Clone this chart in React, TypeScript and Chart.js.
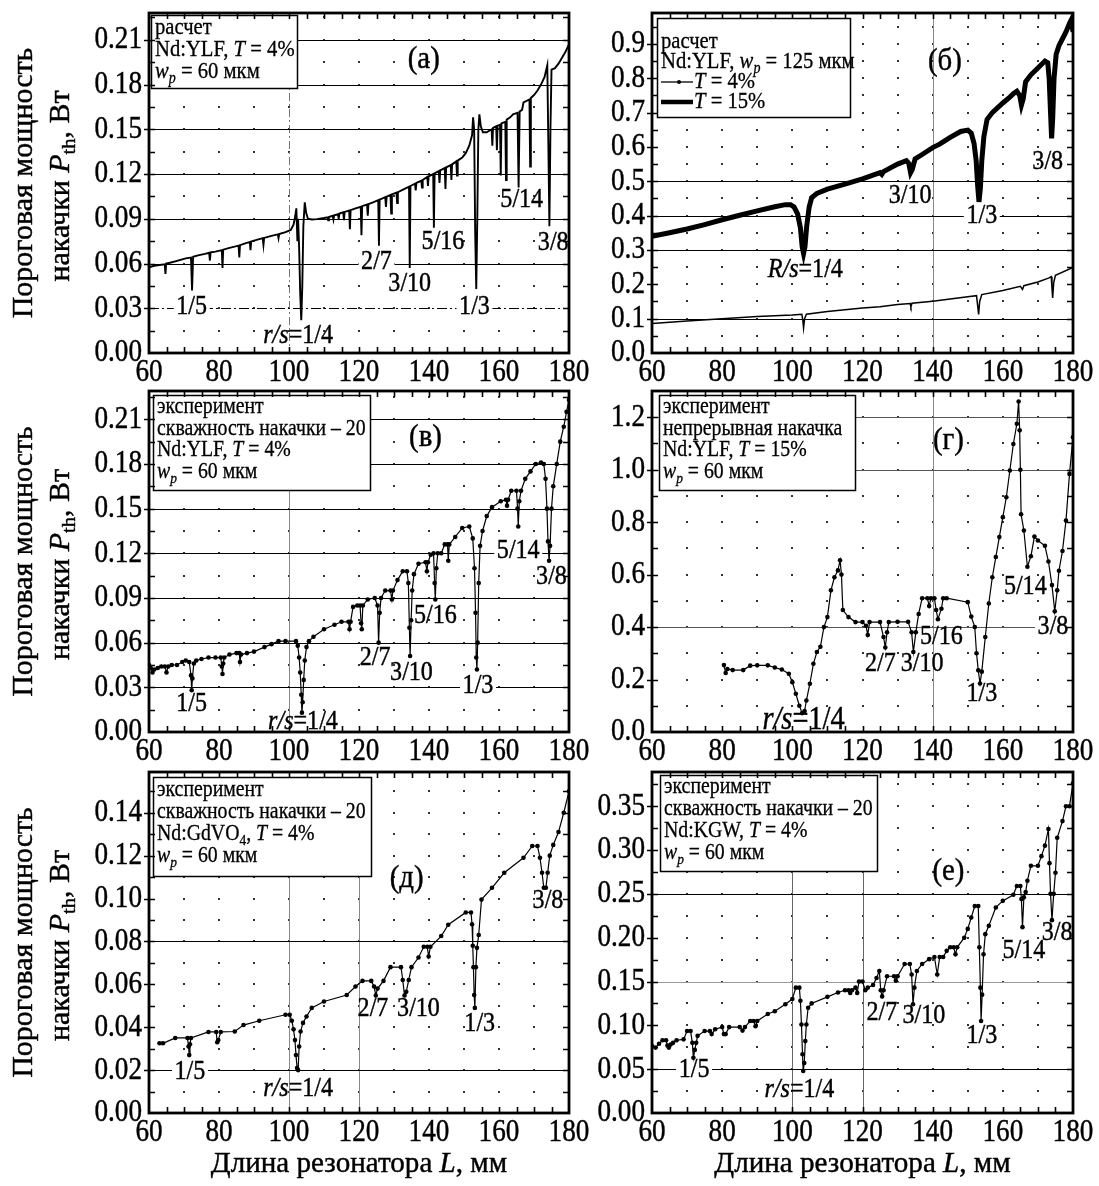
import React, { useEffect, useRef } from "react";
import { Chart, registerables } from "chart.js";
Chart.register(...registerables);

const W = 1099;
const H = 1186;
const FONT = '"Liberation Serif","Times New Roman",serif';

// ---------------- DATA ----------------
// (а) расчет, Nd:YLF, T = 4%
const calcYlfL = [60.0,61.5,63,64.5,64.7,64.9,66,67.5,69,70.5,72.0,72.3,72.6,74,76,77.2,77.4,77.6,79,80.8,81.0,81.2,83,85.6,85.8,86.0,87.5,88.8,89.0,89.2,91,92.5,92.7,92.9,95,96.8,97.0,97.2,99,100.5,101.3,101.8,102.1,102.4,102.6,102.9,103.2,103.5,103.8,104.1,104.5,104.9,105.4,106.5,108,110,111,111.2,111.4,112.5,112.7,112.9,114,114.2,114.4,115.5,115.7,115.9,117.2,117.4,117.6,119,120.5,120.7,120.9,122.3,122.5,122.7,124,125.5,125.7,125.9,127.5,127.7,127.9,129.0,129.2,129.4,130.7,130.9,131.1,133,134.3,134.5,134.7,136,136.2,136.4,137.8,138.0,138.2,139.5,139.7,139.9,141.2,141.4,141.6,142.8,143.0,143.2,144.5,144.7,144.9,146.2,146.4,146.6,147.8,148.0,148.2,149.5,150.5,151.5,152.3,152.6,152.9,153.2,153.5,153.8,154.1,154.4,154.8,155.4,156.5,157.2,157.9,158.1,158.3,159.2,159.4,159.6,160.3,160.5,160.7,161.8,162.0,162.2,163.2,164.0,165.3,165.6,165.9,166.6,167.0,168.7,168.9,169.1,170,171,172,173,173.8,174.1,174.4,174.7,175.0,176,177,178,179,180];
const calcYlfP = [0.0575,0.0585,0.059,0.0595,0.053,0.060,0.0605,0.0615,0.0625,0.0635,0.064,0.042,0.0645,0.0655,0.0665,0.0672,0.062,0.0675,0.068,0.069,0.057,0.0693,0.0705,0.072,0.064,0.0723,0.0735,0.0745,0.069,0.0748,0.076,0.077,0.0725,0.0772,0.0785,0.0795,0.077,0.0798,0.081,0.0825,0.086,0.092,0.097,0.075,0.090,0.070,0.040,0.022,0.045,0.085,0.101,0.094,0.090,0.0895,0.0898,0.0905,0.091,0.089,0.0912,0.092,0.0895,0.0923,0.093,0.090,0.0935,0.0943,0.089,0.0946,0.0955,0.083,0.0958,0.097,0.098,0.079,0.0985,0.0995,0.092,0.0998,0.101,0.1025,0.072,0.1028,0.1045,0.098,0.1048,0.106,0.0935,0.1063,0.1075,0.1005,0.1078,0.110,0.1115,0.057,0.112,0.1135,0.109,0.114,0.1155,0.111,0.116,0.118,0.112,0.1185,0.120,0.084,0.1205,0.122,0.114,0.1225,0.124,0.110,0.1245,0.126,0.116,0.1265,0.1285,0.119,0.129,0.131,0.134,0.139,0.146,0.158,0.150,0.080,0.043,0.090,0.150,0.160,0.152,0.148,0.148,0.149,0.150,0.139,0.151,0.152,0.136,0.1525,0.153,0.119,0.154,0.155,0.116,0.1565,0.158,0.160,0.161,0.111,0.162,0.163,0.168,0.170,0.125,0.171,0.173,0.176,0.180,0.185,0.193,0.140,0.085,0.150,0.190,0.191,0.194,0.198,0.202,0.207];

// (б) расчет, Nd:YLF, wp = 125 мкм, T = 15%
const calc15L = [60,65,70,75,80,85,90,95,98,99.5,100.5,101.5,102.3,102.8,103.2,103.6,104.1,104.8,105.5,107,110,115,120,125,125.5,126,130,132.5,133.2,133.7,134.2,135,137,140,142,145,148,150,151,151.8,152.4,152.8,153.2,153.6,154.0,154.6,155.5,157,160,162,163,164,164.8,165.3,165.8,166.5,168,170,172,172.8,173.2,173.6,173.9,174.2,174.6,175.2,176,177,178,179,179.5,180];
const calc15P = [0.340,0.350,0.361,0.374,0.388,0.401,0.414,0.426,0.432,0.432,0.425,0.405,0.365,0.310,0.290,0.310,0.370,0.425,0.452,0.465,0.477,0.492,0.507,0.525,0.520,0.528,0.550,0.560,0.552,0.525,0.535,0.565,0.578,0.598,0.608,0.628,0.645,0.649,0.640,0.610,0.560,0.490,0.440,0.480,0.560,0.630,0.680,0.700,0.728,0.745,0.755,0.762,0.750,0.722,0.740,0.790,0.810,0.830,0.850,0.845,0.800,0.700,0.625,0.680,0.800,0.870,0.895,0.915,0.935,0.960,0.970,0.935];
// (б) T = 4%
const calc4L = [60,70,80,90,100,102.7,103.0,103.2,103.5,104,110,120,125,130,133.6,133.8,134.1,140,145,150,152.5,152.8,153.1,153.4,154,160,165,165.6,166,170,173,173.8,174.0,174.2,174.5,175,180];
const calc4P = [0.086,0.093,0.100,0.106,0.111,0.113,0.095,0.073,0.100,0.113,0.121,0.131,0.135,0.141,0.144,0.135,0.145,0.151,0.157,0.164,0.167,0.140,0.112,0.150,0.170,0.182,0.194,0.185,0.196,0.207,0.218,0.222,0.190,0.160,0.205,0.226,0.249];

// (в) эксперимент, Nd:YLF, T = 4%
const expYlf4L = [60,60.5,61,61.5,62.5,63.5,64.5,65,65.5,66.5,68,69.5,70.5,71.5,72,72.2,72.4,72.8,73.5,75,77,79,80.5,80.8,81,81.2,81.5,83,85,85.8,86,86.3,88,90,93,95,97,99,102,102.5,102.9,103.2,103.5,103.7,103.9,104.2,104.5,105,105.7,107,110,113,115,117,117.3,117.6,118.3,119.5,120.3,120.6,120.8,121.1,122.5,124.5,125.3,125.6,125.9,126.3,127.5,129,129.4,129.7,131,132.5,133.7,134.1,134.4,134.6,134.9,135.2,135.7,137,139,139.4,139.7,140.5,141.3,141.6,141.8,142.1,142.5,143.5,144.5,145.3,145.5,145.8,147.5,149.5,151.5,152.5,153,153.3,153.5,153.7,153.9,154.2,154.6,155.3,156.5,158,160.5,162,162.3,162.6,163.5,165,165.3,165.5,165.8,166.3,167.5,169,170.5,172,172.8,173.3,173.7,174,174.3,174.6,175,175.5,176.5,177.5,178.5,179.3,180];
const expYlf4P = [0.045,0.043,0.040,0.042,0.043,0.044,0.044,0.040,0.044,0.045,0.045,0.047,0.048,0.047,0.038,0.028,0.036,0.046,0.048,0.049,0.050,0.050,0.050,0.044,0.039,0.046,0.050,0.052,0.053,0.053,0.047,0.052,0.053,0.054,0.057,0.059,0.061,0.061,0.061,0.058,0.050,0.040,0.025,0.013,0.020,0.035,0.048,0.057,0.061,0.064,0.069,0.072,0.074,0.074,0.069,0.074,0.084,0.085,0.085,0.073,0.069,0.085,0.089,0.090,0.085,0.060,0.080,0.090,0.095,0.095,0.089,0.095,0.102,0.108,0.108,0.100,0.070,0.051,0.075,0.095,0.106,0.113,0.114,0.108,0.114,0.119,0.120,0.100,0.089,0.110,0.120,0.120,0.126,0.126,0.115,0.126,0.131,0.137,0.138,0.130,0.110,0.080,0.050,0.042,0.060,0.100,0.125,0.135,0.145,0.151,0.155,0.156,0.152,0.156,0.162,0.162,0.150,0.138,0.155,0.162,0.170,0.175,0.180,0.181,0.180,0.170,0.150,0.128,0.115,0.125,0.150,0.165,0.180,0.195,0.205,0.215,0.223];

// (г) эксперимент, непрерывная накачка, Nd:YLF, T = 15%
const expYlf15L = [80.5,81,81.5,83,86,88,90,93,95,97,99,100,101,102,102.8,103.5,104,105,106,107,108,109,110,111,112,113,113.6,114,114.4,116,118,120,121,121.5,122,125,126,126.5,127,127.5,130,133,134,134.5,135.2,136,137,138.5,139,139.5,140.5,141,141.5,142.5,143,144,150,151,152,152.5,153,153.5,154,155,156,157,158,159,160,161,162,163,164,164.5,164.8,165,165.2,166,167,168,169,170,172,173,174,174.8,175.5,176,177,178,179,180];
const expYlf15P = [0.255,0.225,0.240,0.236,0.236,0.253,0.254,0.254,0.246,0.238,0.222,0.190,0.146,0.100,0.072,0.080,0.120,0.184,0.260,0.305,0.325,0.400,0.438,0.540,0.590,0.616,0.655,0.600,0.465,0.438,0.419,0.419,0.405,0.370,0.419,0.419,0.362,0.322,0.380,0.419,0.420,0.420,0.380,0.305,0.380,0.450,0.510,0.510,0.480,0.510,0.510,0.465,0.430,0.470,0.510,0.510,0.495,0.440,0.400,0.300,0.235,0.185,0.230,0.362,0.490,0.590,0.667,0.743,0.819,0.895,0.997,1.098,1.175,1.260,1.150,1.000,0.830,0.768,0.630,0.670,0.745,0.730,0.710,0.650,0.560,0.460,0.540,0.615,0.690,0.806,0.984,1.124];

// (д) эксперимент, Nd:GdVO4, T = 4%
const expGdvoL = [63,64,67.5,71,71.3,71.5,71.7,72,77,79.2,79.5,79.8,80.5,84.5,87,91.5,99,100.2,100.8,101.3,101.7,102,102.3,102.6,102.9,103.3,104,105,106.5,110,116.5,119,121,123.5,124.3,124.8,125.3,127,129,132,132.5,133,133.5,134.2,135,137,138.5,139.5,139.9,140.4,143.5,145.5,150.5,152,152.3,152.5,152.7,152.9,153.1,153.4,153.7,154.2,155,158,161.5,167,169.5,171,171.7,172.3,172.8,173.4,173.9,174.5,175.5,177,178.5,180];
const expGdvoP = [0.0325,0.0325,0.035,0.035,0.031,0.027,0.032,0.035,0.0378,0.0378,0.033,0.034,0.0378,0.038,0.041,0.043,0.0458,0.0458,0.043,0.039,0.034,0.027,0.021,0.020,0.031,0.038,0.042,0.045,0.049,0.052,0.055,0.059,0.0616,0.0616,0.059,0.0548,0.058,0.0616,0.068,0.068,0.062,0.0548,0.0565,0.062,0.068,0.0725,0.0775,0.0775,0.073,0.0775,0.0825,0.0878,0.0935,0.0935,0.088,0.078,0.068,0.055,0.049,0.068,0.077,0.083,0.0995,0.105,0.112,0.119,0.1245,0.1245,0.119,0.112,0.105,0.105,0.112,0.120,0.125,0.131,0.140,0.150];

// (е) эксперимент, Nd:KGW, T = 4%
const expKgwL = [60,61,62,63,64,64.4,64.8,65.3,66,67,69,70,71,71.5,71.8,72.2,72.6,73,75,76.5,77,78,80,80.5,81,82,85,85.8,86.5,88,89,89.5,90,93,95,98,100,101,102,102.3,102.6,102.9,103.1,103.4,103.7,104,104.5,105.5,110,113,115,116,116.5,117,118,118.5,119,120,120.8,121.5,123,124,124.8,125.2,125.6,126,127,129,129.5,130,132,133.5,134,134.4,134.8,135.5,137,139,140.5,141.3,142,143,144,145,146,146.5,147,149,150,151,152,153,153.3,153.6,153.8,154.1,154.5,155,156,158,160,163,164,165,165.3,165.6,166,166.5,167,168,170,171,172,173,173.3,173.6,174,174.5,175,175.5,177,178,179,180];
const expKgwP = [0.0765,0.0746,0.079,0.083,0.083,0.077,0.0746,0.078,0.080,0.083,0.084,0.0935,0.0935,0.080,0.063,0.072,0.080,0.088,0.0935,0.0935,0.090,0.0955,0.098,0.090,0.090,0.098,0.098,0.094,0.098,0.105,0.105,0.099,0.105,0.113,0.116,0.124,0.130,0.143,0.143,0.128,0.101,0.067,0.048,0.057,0.082,0.101,0.120,0.125,0.1325,0.1375,0.140,0.140,0.137,0.140,0.143,0.137,0.150,0.150,0.140,0.143,0.146,0.154,0.162,0.140,0.133,0.140,0.156,0.156,0.151,0.156,0.170,0.170,0.158,0.124,0.143,0.162,0.170,0.1755,0.178,0.158,0.178,0.178,0.185,0.189,0.189,0.181,0.189,0.200,0.210,0.223,0.236,0.236,0.189,0.143,0.105,0.135,0.181,0.204,0.2135,0.2345,0.242,0.249,0.259,0.259,0.244,0.212,0.246,0.252,0.265,0.282,0.282,0.293,0.305,0.324,0.285,0.250,0.220,0.250,0.274,0.314,0.333,0.350,0.350,0.376];

const xTickLabels = [60, 80, 100, 120, 140, 160, 180];

// ---------------- TEXT HELPERS ----------------
type Seg = { t: string; i?: boolean; sub?: boolean };
const t = (s: string): Seg => ({ t: s });
const it = (s: string): Seg => ({ t: s, i: true });
const sb = (s: string, i = false): Seg => ({ t: s, sub: true, i });

const SQ_TICK = 0.85;
const SQ_NOTE = 0.86;
const SQ_TAG = 0.9;
const SQ_LEG = 0.86;
const SQ_XT = 0.97;
const SQ_YT = 0.97;

function fontFor(s: Seg, size: number) {
  const sz = s.sub ? size * 0.68 : size;
  return `${s.i ? "italic " : ""}${sz}px ${FONT}`;
}

function drawRich(ctx: CanvasRenderingContext2D, segs: Seg[], x: number, y: number, size: number, align: string, sq: number, rot = false, bg = false) {
  ctx.save();
  ctx.translate(x, y);
  ctx.scale(sq, 1);
  if (rot) ctx.rotate(-Math.PI / 2);
  const widths: number[] = [];
  let total = 0;
  for (const s of segs) {
    ctx.font = fontFor(s, size);
    const w = ctx.measureText(s.t).width;
    widths.push(w);
    total += w;
  }
  let sx = align === "center" ? -total / 2 : align === "right" ? -total : 0;
  if (bg) {
    ctx.fillStyle = "#fff";
    ctx.fillRect(sx - 3, -size * 0.4, total + 6, size * 0.8);
  }
  ctx.fillStyle = "#000";
  ctx.strokeStyle = "#000";
  ctx.lineWidth = size > 25 ? 0.45 : 0.3;
  ctx.textBaseline = "middle";
  ctx.textAlign = "left";
  segs.forEach((s, k) => {
    ctx.font = fontFor(s, size);
    const yy = s.sub ? size * 0.3 : 0;
    ctx.fillText(s.t, sx, yy);
    ctx.strokeText(s.t, sx, yy);
    sx += widths[k];
  });
  ctx.restore();
}

// ---------------- PANELS ----------------
const L1 = 149, R1 = 569, L2 = 652, R2 = 1073;
const ROWS = [[13, 353], [391, 732], [772, 1113]];

type Note = { s: Seg[]; x: number; y: number; size?: number; bg?: boolean; tag?: boolean };
type LegLine = { s: Seg[]; sample?: number };

const frac = (s: string) => [t(s)];
const rs = [it("r/s"), t("=1/4")];

const panels: any[] = [
  {
    id: "a", box: [L1, ROWS[0][0], R1, ROWS[0][1]], ymax: 0.228, ystep: 0.03, dec: 2, ytitle: true, xtitle: false,
    hl: [{ v: 0.03, dash: [10, 3, 2, 3] }, { v: 0.06 }, { v: 0.09 }, { v: 0.12 }, { v: 0.15 }, { v: 0.18 }, { v: 0.21 }],
    vl: [{ v: 100, c: "#777", dash: [8, 3, 2, 3] }],
    series: [{ x: calcYlfL, y: calcYlfP, w: 1.9, pts: 0 }],
    notes: [
      { s: frac("(а)"), x: 138.5, y: 0.197, size: 32, tag: true },
      { s: frac("1/5"), x: 72.2, y: 0.031, bg: true },
      { s: rs, x: 102.6, y: 0.0117 },
      { s: frac("2/7"), x: 125, y: 0.061, bg: true },
      { s: frac("3/10"), x: 134.5, y: 0.0466, bg: true },
      { s: frac("5/16"), x: 144, y: 0.0747 },
      { s: frac("1/3"), x: 153, y: 0.031, bg: true },
      { s: frac("5/14"), x: 166.5, y: 0.103 },
      { s: frac("3/8"), x: 175.5, y: 0.074 },
    ],
    legend: { r: [151, 15, 297, 88], first: 13, step: 22, size: 24, lines: [
      { s: [t("расчет")] },
      { s: [t("Nd:YLF, "), it("T"), t(" = 4%")] },
      { s: [it("w"), sb("p", true), t(" = 60 мкм")] },
    ] },
  },
  {
    id: "b", box: [L2, ROWS[0][0], R2, ROWS[0][1]], ymax: 0.99, ystep: 0.1, dec: 1, ytitle: false, xtitle: false,
    hl: [{ v: 0.1 }, { v: 0.3 }, { v: 0.4 }, { v: 0.5 }],
    vl: [{ v: 140, c: "#888" }],
    series: [{ x: calc4L, y: calc4P, w: 1.5, pts: 0 }, { x: calc15L, y: calc15P, w: 5, pts: 0 }],
    notes: [
      { s: frac("(б)"), x: 143.5, y: 0.849, size: 32, tag: true },
      { s: frac("3/10"), x: 133.6, y: 0.459 },
      { s: frac("1/3"), x: 154, y: 0.40, bg: true },
      { s: frac("3/8"), x: 172.8, y: 0.556 },
      { s: [it("R/s"), t("=1/4")], x: 103.7, y: 0.244 },
    ],
    legend: { r: [657, 18, 850, 117], first: 24, step: 20, size: 24, lines: [
      { s: [t("расчет")] },
      { s: [t("Nd:YLF, "), it("w"), sb("p", true), t(" = 125 мкм")] },
      { s: [it("T"), t(" = 4%")], sample: 1.3 },
      { s: [it("T"), t(" = 15%")], sample: 4.5 },
    ] },
  },
  {
    id: "c", box: [L1, ROWS[1][0], R1, ROWS[1][1]], ymax: 0.229, ystep: 0.03, dec: 2, ytitle: true, xtitle: false,
    hl: [{ v: 0.03 }, { v: 0.06 }, { v: 0.09 }, { v: 0.12 }, { v: 0.15 }, { v: 0.18 }, { v: 0.21 }],
    vl: [{ v: 100, c: "#888" }],
    series: [{ x: expYlf4L, y: expYlf4P, w: 1.2, pts: 1 }],
    notes: [
      { s: frac("(в)"), x: 139, y: 0.198, size: 32, tag: true },
      { s: frac("1/5"), x: 72.2, y: 0.019 },
      { s: rs, x: 104, y: 0.0067 },
      { s: frac("2/7"), x: 124.6, y: 0.05 },
      { s: frac("3/10"), x: 135, y: 0.04 },
      { s: frac("5/16"), x: 141.8, y: 0.078 },
      { s: frac("1/3"), x: 154, y: 0.031, bg: true },
      { s: frac("5/14"), x: 165.5, y: 0.122, bg: true },
      { s: frac("3/8"), x: 175, y: 0.104 },
    ],
    legend: { r: [153, 395, 370, 490], first: 12, step: 21.7, size: 23, lines: [
      { s: [t("эксперимент")] },
      { s: [t("скважность накачки – 20")] },
      { s: [t("Nd:YLF, "), it("T"), t(" = 4%")] },
      { s: [it("w"), sb("p", true), t(" = 60 мкм")] },
    ] },
  },
  {
    id: "d", box: [L2, ROWS[1][0], R2, ROWS[1][1]], ymax: 1.3, ystep: 0.2, dec: 1, ytitle: false, xtitle: false,
    hl: [{ v: 0.4, c: "#555" }, { v: 1.0, c: "#555" }, { v: 1.2, c: "#555" }],
    vl: [{ v: 140, c: "#888" }],
    series: [{ x: expYlf15L, y: expYlf15P, w: 1.2, pts: 1 }],
    notes: [
      { s: frac("(г)"), x: 144.5, y: 1.111, size: 32, tag: true },
      { s: rs, x: 103.2, y: 0.044, size: 33 },
      { s: frac("2/7"), x: 125.1, y: 0.26 },
      { s: frac("3/10"), x: 137, y: 0.26 },
      { s: frac("5/16"), x: 142.5, y: 0.362 },
      { s: frac("1/3"), x: 154, y: 0.146 },
      { s: frac("5/14"), x: 166.4, y: 0.555 },
      { s: frac("3/8"), x: 174.3, y: 0.40, bg: true },
    ],
    legend: { r: [659, 395, 855, 490], first: 12, step: 21.7, size: 23, lines: [
      { s: [t("эксперимент")] },
      { s: [t("непрерывная накачка")] },
      { s: [t("Nd:YLF, "), it("T"), t(" = 15%")] },
      { s: [it("w"), sb("p", true), t(" = 60 мкм")] },
    ] },
  },
  {
    id: "e", box: [L1, ROWS[2][0], R1, ROWS[2][1]], ymax: 0.159, ystep: 0.02, dec: 2, ytitle: true, xtitle: true,
    hl: [{ v: 0.02 }, { v: 0.08 }],
    vl: [{ v: 100, c: "#888" }, { v: 120, c: "#888" }],
    series: [{ x: expGdvoL, y: expGdvoP, w: 1.2, pts: 1 }],
    notes: [
      { s: frac("(д)"), x: 133.6, y: 0.1095, size: 32, tag: true },
      { s: frac("1/5"), x: 71.7, y: 0.0192, bg: true },
      { s: rs, x: 102.6, y: 0.0114 },
      { s: frac("2/7"), x: 124, y: 0.0488 },
      { s: frac("3/10"), x: 137, y: 0.0488 },
      { s: frac("1/3"), x: 154.5, y: 0.0418 },
      { s: frac("3/8"), x: 174, y: 0.099 },
    ],
    legend: { r: [153, 777, 371, 876], first: 12.5, step: 22.3, size: 23, lines: [
      { s: [t("эксперимент")] },
      { s: [t("скважность накачки – 20")] },
      { s: [t("Nd:GdVO"), sb("4"), t(", "), it("T"), t(" = 4%")] },
      { s: [it("w"), sb("p", true), t(" = 60 мкм")] },
    ] },
  },
  {
    id: "f", box: [L2, ROWS[2][0], R2, ROWS[2][1]], ymax: 0.389, ystep: 0.05, dec: 2, ytitle: false, xtitle: true,
    hl: [{ v: 0.05 }, { v: 0.15, c: "#999" }, { v: 0.25 }],
    vl: [{ v: 100, c: "#666" }, { v: 120, c: "#666" }],
    series: [{ x: expKgwL, y: expKgwP, w: 1.2, pts: 1 }],
    notes: [
      { s: frac("(е)"), x: 144.5, y: 0.275, size: 32, tag: true },
      { s: frac("1/5"), x: 72, y: 0.05, bg: true },
      { s: rs, x: 102, y: 0.027 },
      { s: frac("2/7"), x: 125.5, y: 0.115 },
      { s: frac("3/10"), x: 137.5, y: 0.111 },
      { s: frac("1/3"), x: 154, y: 0.088 },
      { s: frac("5/14"), x: 166, y: 0.185 },
      { s: frac("3/8"), x: 175.5, y: 0.206 },
    ],
    legend: { r: [660, 775, 877, 871], first: 12, step: 22, size: 23, lines: [
      { s: [t("эксперимент")] },
      { s: [t("скважность накачки – 20")] },
      { s: [t("Nd:KGW, "), it("T"), t(" = 4%")] },
      { s: [it("w"), sb("p", true), t(" = 60 мкм")] },
    ] },
  },
];

function makePlugin(p: any) {
  return {
    id: "panel_" + p.id,
    beforeDatasetsDraw(chart: any) {
      const ctx: CanvasRenderingContext2D = chart.ctx;
      const xs = chart.scales.x, ys = chart.scales.y;
      const { left, right, top, bottom } = chart.chartArea;
      ctx.save();
      // dot grid
      ctx.fillStyle = "#333";
      const half = p.ystep / 2;
      for (let xv = 70; xv < 180; xv += 10) {
        for (let k = 1; k * half < p.ymax - 1e-9; k++) {
          const px = Math.round(xs.getPixelForValue(xv));
          const py = Math.round(ys.getPixelForValue(k * half));
          ctx.fillRect(px - 1, py - 1, 2, 2);
        }
      }
      // vertical lines
      for (const v of p.vl) {
        const px = Math.round(xs.getPixelForValue(v.v)) + 0.5;
        ctx.strokeStyle = v.c || "#000";
        ctx.lineWidth = 1;
        ctx.setLineDash(v.dash || []);
        ctx.beginPath(); ctx.moveTo(px, top); ctx.lineTo(px, bottom); ctx.stroke();
      }
      // horizontal lines
      for (const h of p.hl) {
        const py = Math.round(ys.getPixelForValue(h.v)) + 0.5;
        ctx.strokeStyle = h.c || "#000";
        ctx.lineWidth = 1.2;
        ctx.setLineDash(h.dash || []);
        ctx.beginPath(); ctx.moveTo(left, py); ctx.lineTo(right, py); ctx.stroke();
      }
      ctx.setLineDash([]);
      // notes
      for (const n of p.notes as Note[]) {
        drawRich(ctx, n.s, xs.getPixelForValue(n.x), ys.getPixelForValue(n.y), n.size || 28, "center", n.tag ? SQ_TAG : SQ_NOTE, false, !!n.bg);
      }
      ctx.restore();
    },
    afterDatasetsDraw(chart: any) {
      const ctx: CanvasRenderingContext2D = chart.ctx;
      const xs = chart.scales.x, ys = chart.scales.y;
      const { left, right, top, bottom } = chart.chartArea;
      ctx.save();
      // legend box
      const lg = p.legend;
      const [bx0, by0, bx1, by1] = lg.r;
      ctx.fillStyle = "#fff";
      ctx.fillRect(bx0, by0, bx1 - bx0, by1 - by0);
      ctx.strokeStyle = "#000";
      ctx.lineWidth = 1.5;
      ctx.strokeRect(bx0 + 0.5, by0 + 0.5, bx1 - bx0, by1 - by0);
      (lg.lines as LegLine[]).forEach((ln, k) => {
        const yy = by0 + lg.first + k * lg.step;
        let tx = bx0 + 4;
        if (ln.sample) {
          ctx.strokeStyle = "#000";
          ctx.lineWidth = ln.sample;
          ctx.beginPath(); ctx.moveTo(bx0 + 4, yy); ctx.lineTo(bx0 + 36, yy); ctx.stroke();
          if (ln.sample < 2) { ctx.beginPath(); ctx.arc(bx0 + 22, yy, 2, 0, Math.PI * 2); ctx.fillStyle = "#000"; ctx.fill(); }
          tx = bx0 + 37;
        }
        drawRich(ctx, ln.s, tx, yy, lg.size, "left", SQ_LEG);
      });
      // ticks
      ctx.strokeStyle = "#000";
      ctx.lineWidth = 1.6;
      ctx.beginPath();
      for (let xv = 65; xv < 180; xv += 5) {
        const px = Math.round(xs.getPixelForValue(xv)) + 0.5;
        ctx.moveTo(px, bottom); ctx.lineTo(px, bottom - 6);
        ctx.moveTo(px, top); ctx.lineTo(px, top + 6);
      }
      const half = p.ystep / 2;
      for (let k = 1; k * half < p.ymax - 1e-9; k++) {
        const py = Math.round(ys.getPixelForValue(k * half)) + 0.5;
        const major = k % 2 === 0;
        ctx.moveTo(left - (major ? 5 : 0), py); ctx.lineTo(left + 6, py);
        ctx.moveTo(right, py); ctx.lineTo(right - 6, py);
      }
      ctx.stroke();
      // frame
      ctx.lineWidth = 2.8;
      ctx.strokeRect(left, top, right - left, bottom - top);
      // tick labels
      for (const xv of xTickLabels) {
        drawRich(ctx, [t(String(xv))], xs.getPixelForValue(xv), bottom + 20, 32, "center", SQ_TICK);
      }
      for (let k = 0; k * p.ystep < p.ymax - 1e-9; k++) {
        const v = k * p.ystep;
        drawRich(ctx, [t(v.toFixed(p.dec))], left - 7, ys.getPixelForValue(v), 32, "right", SQ_TICK);
      }
      // axis titles
      const cy = (top + bottom) / 2;
      if (p.ytitle) {
        drawRich(ctx, [t("Пороговая мощность")], 24, cy, 30, "center", SQ_YT, true);
        drawRich(ctx, [t("накачки "), it("P"), sb("th"), t(", Вт")], 61, cy + 3, 30, "center", SQ_YT, true);
      }
      if (p.xtitle) {
        drawRich(ctx, [t("Длина резонатора "), it("L"), t(", мм")], (left + right) / 2, 1164, 30, "center", SQ_XT);
      }
      ctx.restore();
    },
  };
}

function PanelChart({ p }: { p: any }) {
  const ref = useRef<HTMLCanvasElement | null>(null);
  useEffect(() => {
    const [x0, y0, x1, y1] = p.box;
    const chart = new Chart(ref.current as HTMLCanvasElement, {
      type: "line",
      data: {
        datasets: p.series.map((s: any) => ({
          data: s.x.map((xv: number, i: number) => ({ x: xv, y: s.y[i] })),
          borderColor: "#000",
          backgroundColor: "#000",
          borderWidth: s.w,
          pointRadius: s.pts ? 2.3 : 0,
          pointBackgroundColor: "#000",
          pointBorderWidth: 0,
          tension: 0,
          fill: false,
        })),
      },
      options: {
        animation: false,
        responsive: false,
        devicePixelRatio: 1,
        events: [],
        layout: { padding: { left: x0, top: y0, right: W - x1, bottom: H - y1 } },
        plugins: { legend: { display: false }, tooltip: { enabled: false } },
        scales: {
          x: { type: "linear", min: 60, max: 180, display: false },
          y: { type: "linear", min: 0, max: p.ymax, display: false },
        },
      },
      plugins: [makePlugin(p)],
    } as any);
    return () => chart.destroy();
  }, []);
  return <canvas ref={ref} width={W} height={H} style={{ position: "absolute", left: 0, top: 0, display: "block" }} />;
}

export default function App() {
  return (
    <div style={{ position: "absolute", left: 0, top: 0, width: W, height: H, background: "#fff", overflow: "hidden" }}>
      {panels.map((p) => (
        <PanelChart key={p.id} p={p} />
      ))}
    </div>
  );
}
